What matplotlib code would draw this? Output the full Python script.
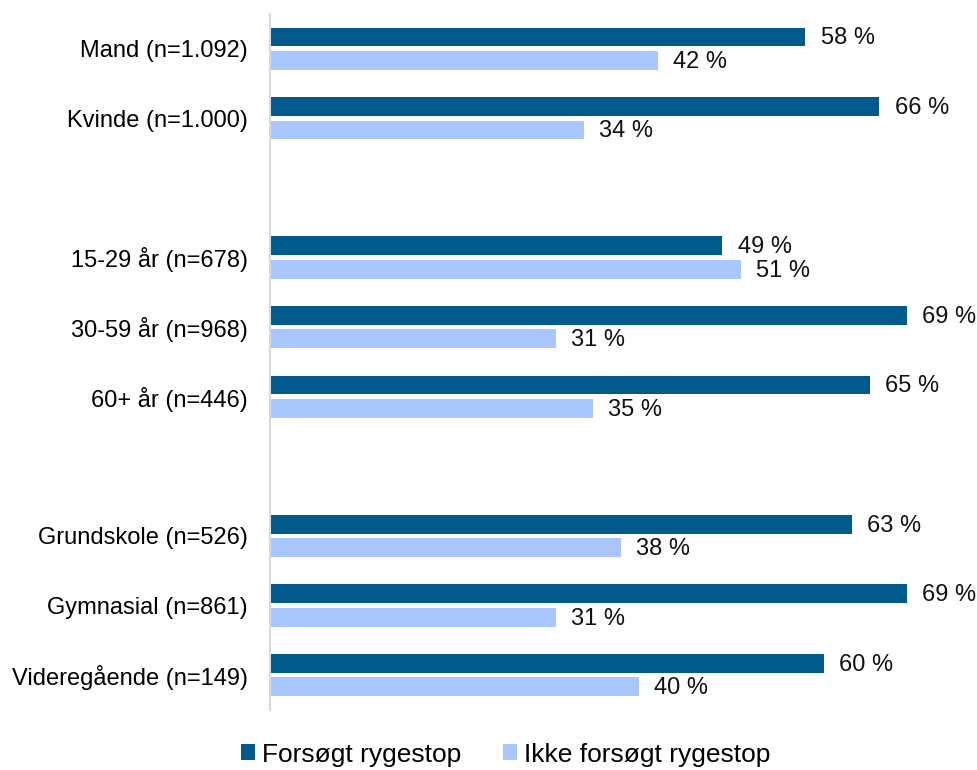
import numpy as np
import matplotlib.pyplot as plt

plt.rcParams['font.family'] = ['Liberation Sans', 'DejaVu Sans']

groups = [
    ['Mand (n=1.092)', 'Kvinde (n=1.000)'],
    ['15-29 år (n=678)', '30-59 år (n=968)', '60+ år (n=446)'],
    ['Grundskole (n=526)', 'Gymnasial (n=861)', 'Videregående (n=149)'],
]
forsoegt = [58, 66, 49, 69, 65, 63, 69, 60]
ikke_forsoegt = [42, 34, 51, 31, 35, 38, 31, 40]
series_names = ['Forsøgt rygestop', 'Ikke forsøgt rygestop']
colors = ['#005A8C', '#A9C6FF']

# one empty slot between groups
labels, pos = [], []
slot = 0
for g in groups:
    for name in g:
        labels.append(name)
        pos.append(slot)
        slot += 1
    slot += 1
pos = np.array(pos)

fig = plt.figure(figsize=(9.78, 7.7), dpi=100)
ax = fig.add_axes([0.276, 0.078, 0.708, 0.904])

h = 0.27
off = 0.168
b1 = ax.barh(pos - off, forsoegt, height=h, color=colors[0], label=series_names[0])
b2 = ax.barh(pos + off, ikke_forsoegt, height=h, color=colors[1], label=series_names[1])

for bars, vals in [(b1, forsoegt), (b2, ikke_forsoegt)]:
    for bar, v in zip(bars, vals):
        ax.annotate(f'{v} %', (bar.get_width(), bar.get_y() + bar.get_height() / 2),
                    xytext=(11, -1), textcoords='offset points',
                    va='center', ha='left', fontsize=17, color='#111111')

ax.set_xlim(0, 75)
ax.set_ylim(slot - 1.5, -0.5)
ax.set_yticks(pos)
ax.set_yticklabels(labels, fontsize=17)
ax.tick_params(axis='y', length=0, pad=16)
ax.set_xticks([])
for s in ['top', 'right', 'bottom']:
    ax.spines[s].set_visible(False)
ax.spines['left'].set_color('#D9D9D9')
ax.spines['left'].set_linewidth(1.5)

fig.legend(handles=[b1, b2], loc='center', bbox_to_anchor=(0.517, 0.02), ncol=2,
           frameon=False, fontsize=19, handlelength=0.53, handleheight=0.53,
           handletextpad=0.27, columnspacing=1.6, borderpad=0)

plt.savefig('out.png')
